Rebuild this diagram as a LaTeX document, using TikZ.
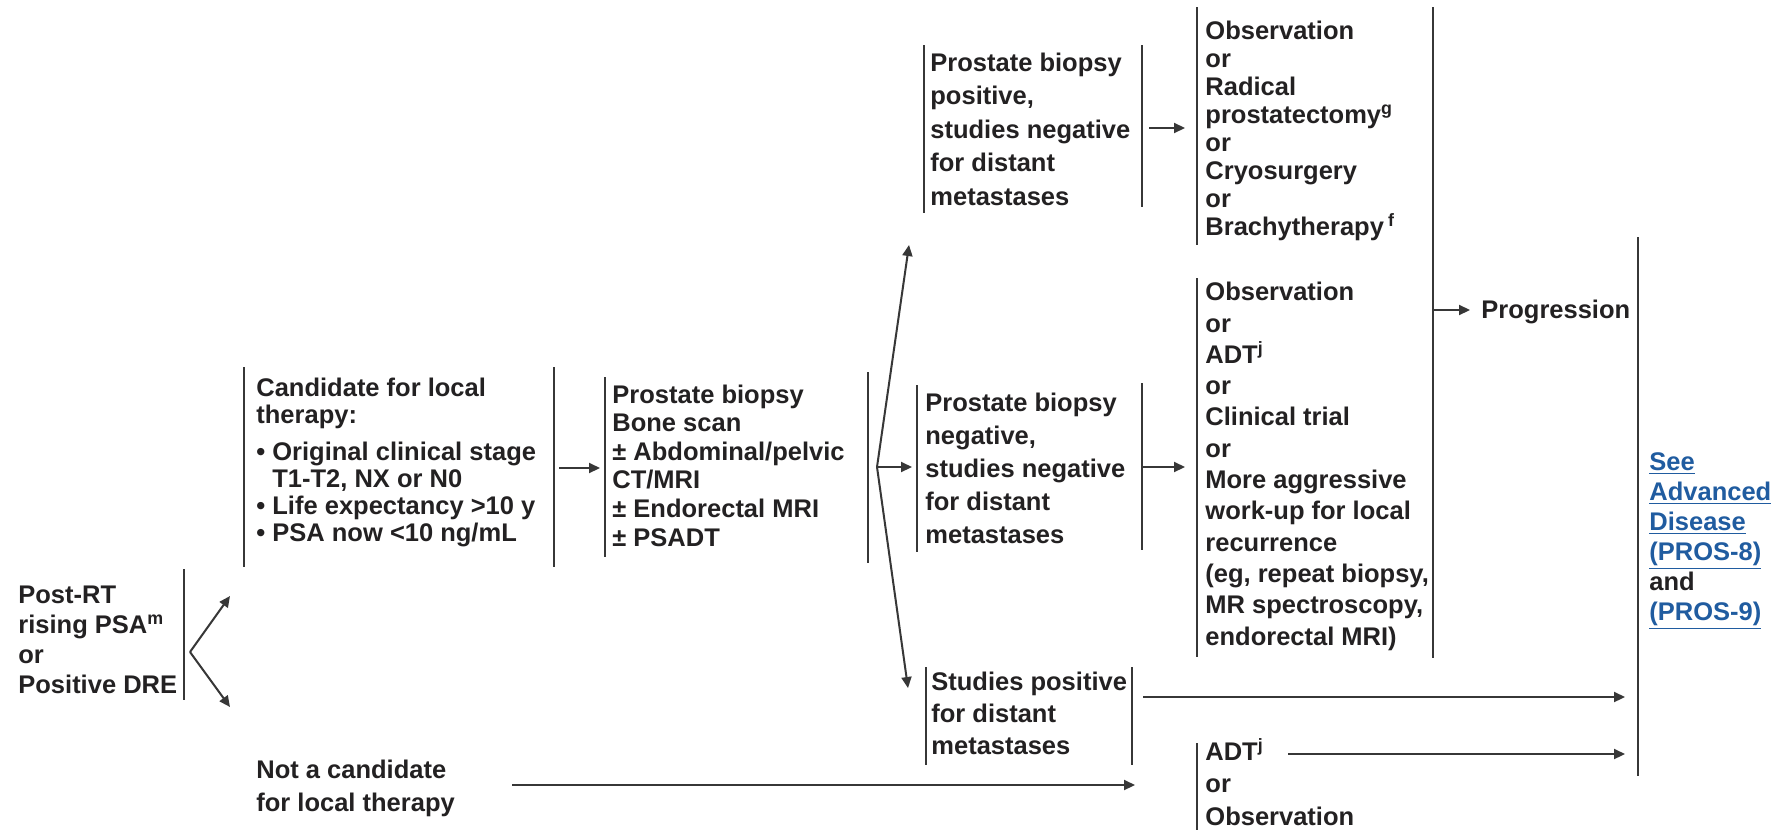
\documentclass[tikz,border=0pt]{standalone}
\usepackage{fontspec}
\setmainfont{Liberation Sans}
\usetikzlibrary{arrows.meta}
\definecolor{ink}{RGB}{35,33,34}
\definecolor{rulegray}{RGB}{55,55,55}
\definecolor{linkblue}{RGB}{32,92,160}
\newcommand{\lnk}[1]{\textcolor{linkblue}{\underline{#1}}}
\begin{document}
\begin{tikzpicture}[x=0.5pt,y=-0.5pt,
  % multi-line blocks are placed by the baseline of their last line
  txt/.style={anchor=base west, inner sep=0pt, align=left, text=ink,
    font=\bfseries\fontsize{12.75pt}{#1}\selectfont},
  bar/.style={draw=rulegray, line width=1pt},
  flow/.style={draw=rulegray, line width=1pt, -{Triangle[length=5.5pt,width=5pt]}}]
\useasboundingbox[fill=white] (0,0) rectangle (1780,830);

% ---- text blocks ----
\node[txt=15pt] (post) at (18,693) {Post-RT\\rising PSA\textsuperscript{m}\\or\\Positive DRE};
\node[txt=13.5pt] (cand) at (256,541) {Candidate for local\\therapy:\\[5pt]%
  • Original clinical stage\\\phantom{• }T1-T2, NX or N0\\• Life expectancy >10 y\\• PSA now <10 ng/mL};
\node[txt=16.5pt] (notcand) at (256,811) {Not a candidate\\for local therapy};
\node[txt=14.3pt] (workup) at (612,546) {Prostate biopsy\\Bone scan\\± Abdominal/pelvic\\CT/MRI\\± Endorectal MRI\\± PSADT};
\node[txt=16.75pt] (bxpos) at (930,205) {Prostate biopsy\\positive,\\studies negative\\for distant\\metastases};
\node[txt=16.5pt] (bxneg) at (925,543) {Prostate biopsy\\negative,\\studies negative\\for distant\\metastases};
\node[txt=16pt] (distant) at (931,754) {Studies positive\\for distant\\metastases};
\node[txt=13.95pt] (txa) at (1205,235) {Observation\\or\\Radical\\prostatectomy\textsuperscript{g}\\or\\Cryosurgery\\or\\Brachytherapy\,\textsuperscript{f}};
\node[txt=15.65pt] (txb) at (1205,645) {Observation\\or\\ADT\textsuperscript{j}\\or\\Clinical trial\\or\\More aggressive\\work-up for local\\recurrence\\(eg, repeat biopsy,\\MR spectroscopy,\\endorectal MRI)};
\node[txt=16.25pt] (txc) at (1205,825) {ADT\textsuperscript{j}\\or\\Observation};
\node[txt=14pt] (prog) at (1481,318) {Progression};
\node[txt=15pt] (adv) at (1649,620) {\lnk{See}\\\lnk{Advanced}\\\lnk{Disease}\\\lnk{(PROS-8)}\\and\\\lnk{(PROS-9)}};

% ---- bracket bars ----
\draw[bar] (184,569) -- (184,700);
\draw[bar] (244,367) -- (244,567);
\draw[bar] (554,367) -- (554,567);
\draw[bar] (605,377) -- (605,557);
\draw[bar] (868,372) -- (868,563);
\draw[bar] (924,45) -- (924,213);
\draw[bar] (1142,45) -- (1142,207);
\draw[bar] (917,385) -- (917,552);
\draw[bar] (1142,383) -- (1142,550);
\draw[bar] (926,667) -- (926,765);
\draw[bar] (1132,667) -- (1132,765);
\draw[bar] (1197,7) -- (1197,245);
\draw[bar] (1197,278) -- (1197,657);
\draw[bar] (1197,743) -- (1197,830);
\draw[bar] (1433,7) -- (1433,658);
\draw[bar] (1638,237) -- (1638,776);

% ---- connector end points ----
\coordinate (f1) at (190,652);
\coordinate (candIn) at (230,596);
\coordinate (notIn) at (230,707);
\coordinate (candOut) at (559,468);
\coordinate (workIn) at (600,468);
\coordinate (f2) at (877,467);
\coordinate (posIn) at (909,245);
\coordinate (negIn) at (912,467);
\coordinate (distIn) at (908,688);
\coordinate (posOut) at (1149,128);
\coordinate (txaIn) at (1185,128);
\coordinate (negOut) at (1142,467);
\coordinate (txbIn) at (1185,467);
\coordinate (txOut) at (1433,310);
\coordinate (progIn) at (1470,310);
\coordinate (distOut) at (1143,697);
\coordinate (advIn1) at (1625,697);
\coordinate (adtOut) at (1288,754);
\coordinate (advIn2) at (1625,754);
\coordinate (notOut) at (512,785);
\coordinate (txcIn) at (1135,785);

% ---- connectors ----
\draw[flow] (f1) -- (candIn);
\draw[flow] (f1) -- (notIn);
\draw[flow] (candOut) -- (workIn);
\draw[flow] (f2) -- (posIn);
\draw[flow] (f2) -- (negIn);
\draw[flow] (f2) -- (distIn);
\draw[flow] (posOut) -- (txaIn);
\draw[flow] (negOut) -- (txbIn);
\draw[flow] (txOut) -- (progIn);
\draw[flow] (distOut) -- (advIn1);
\draw[flow] (adtOut) -- (advIn2);
\draw[flow] (notOut) -- (txcIn);
\end{tikzpicture}
\end{document}
